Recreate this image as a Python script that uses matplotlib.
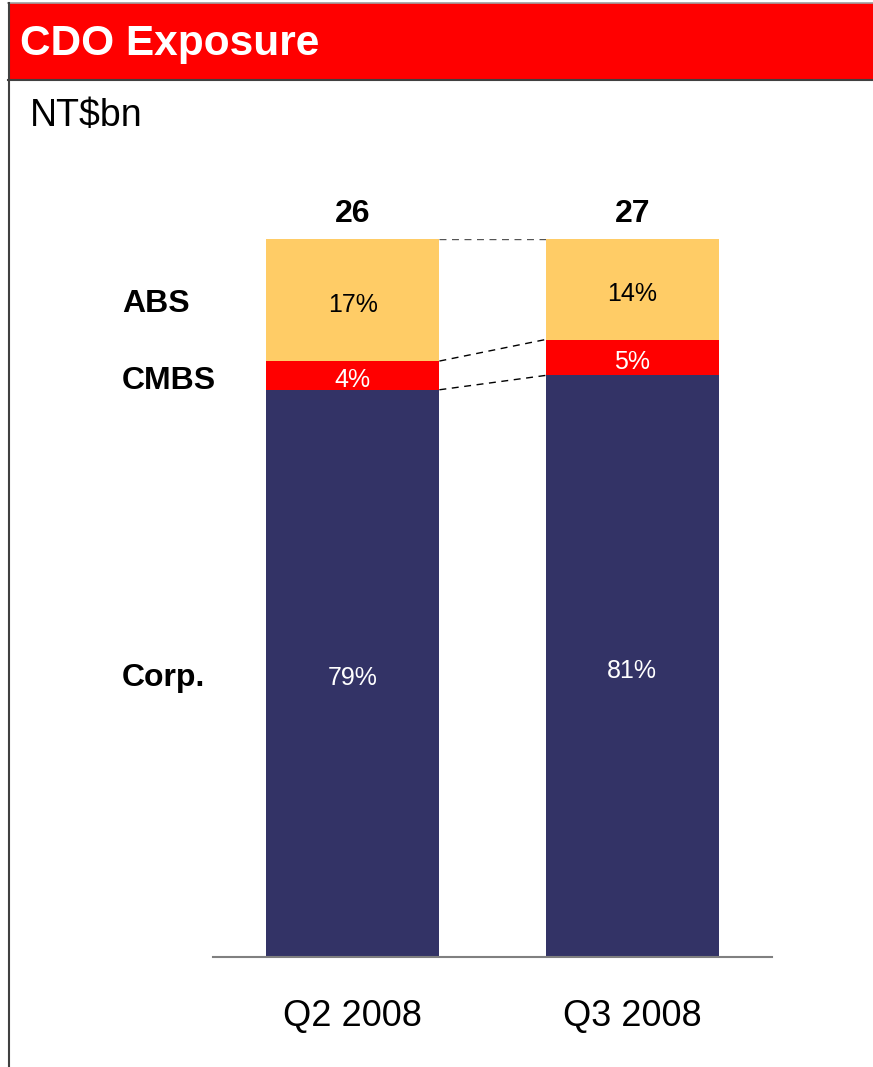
import matplotlib
matplotlib.use("Agg")
import matplotlib.pyplot as plt
from matplotlib.patches import Rectangle
from matplotlib.lines import Line2D
import numpy as np

plt.rcParams['font.family'] = ['Liberation Sans', 'DejaVu Sans']

periods = ["Q2 2008", "Q3 2008"]
totals = [26, 27]
segments = ["Corp.", "CMBS", "ABS"]
corp = [79, 81]
cmbs = [4, 5]
abs_ = [17, 14]
seg_values = [corp, cmbs, abs_]
seg_colors = ["#333366", "#FF0000", "#FFCC66"]
label_colors = ["white", "white", "black"]

W, H = 873, 1067
fig = plt.figure(figsize=(W / 100, H / 100), dpi=100)
fig.patch.set_facecolor("white")

# header band
fig.patches.append(Rectangle((8 / W, 1 - 80 / H), 1 - 8 / W, 77 / H, transform=fig.transFigure,
                             facecolor="#FF0000", edgecolor="none", zorder=0))
fig.lines.append(Line2D([8 / W, 1], [1 - 80 / H, 1 - 80 / H], transform=fig.transFigure,
                        color="#404040", lw=1.5))
fig.lines.append(Line2D([8 / W, 1], [1 - 2.5 / H, 1 - 2.5 / H], transform=fig.transFigure,
                        color="#A0A0A0", lw=1.2))
fig.lines.append(Line2D([8.5 / W, 8.5 / W], [0, 1 - 2.5 / H], transform=fig.transFigure,
                        color="#404040", lw=1.5))
fig.text(20 / W, 1 - 44 / H, "CDO Exposure", color="white", fontsize=30.5, fontweight="bold",
         ha="left", va="center")
fig.text(30 / W, 1 - 116 / H, "NT$bn", color="black", fontsize=27, ha="left", va="center")

ax = fig.add_axes([213 / W, (H - 957) / H, 559 / W, 718 / H])
x = np.arange(len(periods))
width = 0.62
bottom = np.zeros(len(periods))
containers = []
for vals, col, lc in zip(seg_values, seg_colors, label_colors):
    bc = ax.bar(x, vals, width, bottom=bottom, color=col, edgecolor="none", zorder=2)
    for xi, b, v in zip(x, bottom, vals):
        ax.annotate(f"{v}%", xy=(xi, b + v / 2), xytext=(0, -3.5), textcoords="offset points",
                    ha="center", va="center", color=lc, fontsize=18, zorder=3)
    containers.append(bc)
    bottom = bottom + np.array(vals)

# totals on top
ax.bar_label(containers[-1], labels=[str(t) for t in totals], padding=7, fontsize=23,
             fontweight="bold", color="black")

# dashed connector lines between bars
cum = np.cumsum(np.array(seg_values), axis=0)
for i, lvl in enumerate(cum):
    col = "#555555" if i == len(cum) - 1 else "black"
    ax.plot([x[0] + width / 2, x[1] - width / 2], [lvl[0], lvl[1]], ls=(0, (5, 4)), lw=1.0,
            color=col, zorder=1)

# segment names at left
mids = cum[:, 0] - np.array(seg_values)[:, 0] / 2
offs = [-3, -4, -3]
for name, m, o in zip(segments, mids, offs):
    ax.annotate(name, xy=(-0.825, m), xytext=(0, o), textcoords="offset points",
                fontsize=23, fontweight="bold", ha="left", va="center", annotation_clip=False)

ax.set_xlim(-0.5, 1.5)
ax.set_ylim(0, 100)
ax.set_xticks(x)
ax.set_xticklabels(periods, fontsize=26)
ax.tick_params(axis="x", length=0, pad=30)
ax.set_yticks([])
for s in ["top", "right", "left"]:
    ax.spines[s].set_visible(False)
ax.spines["bottom"].set_color("#808080")
ax.spines["bottom"].set_linewidth(1.5)
ax.set_facecolor("none")

fig.savefig("out.png", dpi=100)
